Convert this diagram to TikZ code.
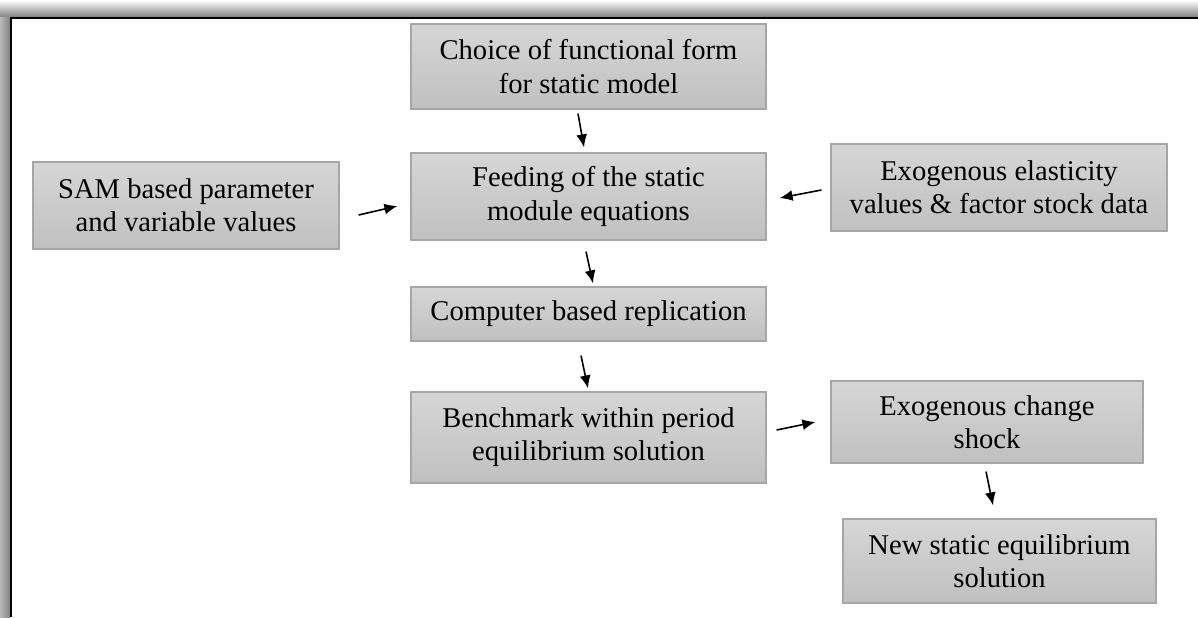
\documentclass[tikz,border=0pt]{standalone}
\usepackage{fontspec}
\setmainfont{Liberation Serif}
\usetikzlibrary{arrows.meta,calc}
\definecolor{boxtop}{RGB}{214,214,214}
\definecolor{boxbot}{RGB}{192,192,192}
\definecolor{boxline}{RGB}{166,166,166}
\definecolor{shadowdark}{RGB}{130,130,130}
\definecolor{shadowlight}{RGB}{185,185,185}
\tikzset{
  flowbox/.style={draw=boxline, line width=0.6pt, top color=boxtop, bottom color=boxbot,
    align=center, inner sep=0pt, font=\fontsize{14.3}{16.6}\selectfont},
  arr/.style={-{Latex[length=6.5pt,width=5.5pt]}, line width=0.8pt, black},
}
\begin{document}
\begin{tikzpicture}[x=0.5pt,y=-0.5pt]
\useasboundingbox (0,0) rectangle (1198,617);
% outer frame shadow
\shade[top color=white, bottom color=shadowdark] (0,0) rectangle (1198,17);
\shade[left color=shadowlight, right color=shadowdark] (0,17) rectangle (10,617);
\draw[line width=1pt] (11,617) -- (11,18) -- (1198,18);

% boxes
\node[flowbox, minimum width=177.5pt, minimum height=42.5pt] (choice) at (588.5,66.5) {Choice of functional form\\for static model};
\node[flowbox, minimum width=153pt, minimum height=43.5pt] (sam) at (186,205.5) {SAM based parameter\\and variable values};
\node[flowbox, minimum width=177.5pt, minimum height=43.5pt] (feed) at (588.5,196.5) {Feeding of the static\\module equations};
\node[flowbox, minimum width=168pt, minimum height=43.5pt] (exo) at (999,187.5) {Exogenous elasticity\\values \& factor stock data};
\node[flowbox, minimum width=177.5pt, minimum height=27pt] (comp) at (588.5,314) {Computer based replication};
\node[flowbox, minimum width=177.5pt, minimum height=45.5pt] (bench) at (588.5,437.5) {Benchmark within period\\equilibrium solution};
\node[flowbox, minimum width=156pt, minimum height=41pt] (shock) at (987,422) {Exogenous change\\shock};
\node[flowbox, minimum width=156.5pt, minimum height=42pt] (new) at (999.5,561) {New static equilibrium\\solution};

% connectors
\draw[arr] ([shift={(-10.5,4)}]choice.south) -- ([shift={(-4.5,-5)}]feed.north);
\draw[arr] ([shift={(19,9.5)}]sam.east) -- ([shift={(-13,9.5)}]feed.west);
\draw[arr] ([shift={(-9,2.5)}]exo.west) -- ([shift={(13,1.5)}]feed.east);
\draw[arr] ([shift={(-2.5,11)}]feed.south) -- ([shift={(4.5,-3)}]comp.north);
\draw[arr] ([shift={(-7.5,14)}]comp.south) -- ([shift={(-0.5,-3)}]bench.north);
\draw[arr] ([shift={(10,-7.5)}]bench.east) -- ([shift={(-15,0)}]shock.west);
\draw[arr] ([shift={(-1,8)}]shock.south) -- ([shift={(-6.5,-13)}]new.north);
\end{tikzpicture}
\end{document}
